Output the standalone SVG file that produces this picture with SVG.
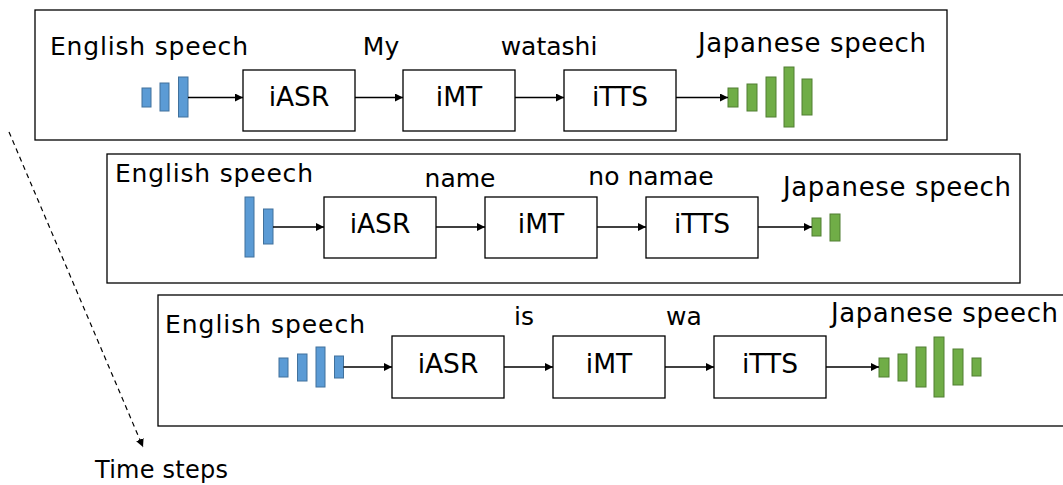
<svg xmlns="http://www.w3.org/2000/svg" width="1063" height="485" viewBox="0 0 1063 485">
  <defs>
    <style>
      text { font-family: "DejaVu Sans", "Noto Sans", sans-serif; font-size: 25px; fill: #000; }
      .node-label { font-size: 26.5px; }
      .ja-label { font-size: 26px; }
      .panel { fill: #fff; stroke: #000; stroke-width: 1.3; }
      .box { fill: #fff; stroke: #000; stroke-width: 1.3; }
      .en { fill: #5B9BD5; stroke: #41719C; stroke-width: 1; }
      .ja { fill: #70AD47; stroke: #507E32; stroke-width: 1; }
      .link { stroke: #000; stroke-width: 1.3; fill: none; marker-end: url(#arrow); }
      .time { stroke: #000; stroke-width: 1.2; fill: none; stroke-dasharray: 5 4; marker-end: url(#arrow); }
    </style>
    <marker id="arrow" viewBox="0 0 10 10" refX="10" refY="5" markerWidth="8" markerHeight="8" markerUnits="userSpaceOnUse" orient="auto">
      <path d="M0,0 L10,5 L0,10 z" fill="#000"/>
    </marker>
  </defs>

  <!-- Step 1 -->
  <g id="step1">
    <rect class="panel" x="35" y="10" width="912" height="130"/>
    <text x="50" y="55" textLength="198">English speech</text>
    <text class="ja-label" x="698" y="52" textLength="228">Japanese speech</text>
    <text x="381" y="55" text-anchor="middle">My</text>
    <text x="549" y="55" text-anchor="middle">watashi</text>
    <rect class="en" x="142" y="88" width="9" height="19"/>
    <rect class="en" x="160" y="83" width="9" height="28"/>
    <rect class="en" x="178.5" y="77" width="9.5" height="40"/>
    <rect class="ja" x="728" y="88" width="10" height="19"/>
    <rect class="ja" x="747" y="84" width="10" height="27"/>
    <rect class="ja" x="766" y="77" width="10" height="40"/>
    <rect class="ja" x="784" y="67" width="10" height="60"/>
    <rect class="ja" x="802" y="79" width="10" height="36"/>
  </g>
  <g id="iasr1"><rect class="box" x="243" y="70" width="112" height="61"/><text class="node-label" x="299" y="106" text-anchor="middle">iASR</text></g>
  <g id="imt1"><rect class="box" x="403" y="70" width="112" height="61"/><text class="node-label" x="459" y="106" text-anchor="middle">iMT</text></g>
  <g id="itts1"><rect class="box" x="564" y="70" width="112" height="61"/><text class="node-label" x="620" y="106" text-anchor="middle">iTTS</text></g>

  <!-- Step 2 -->
  <g id="step2">
    <rect class="panel" x="107" y="154" width="913" height="129"/>
    <text x="115" y="182" textLength="198">English speech</text>
    <text class="ja-label" x="783" y="196" textLength="228">Japanese speech</text>
    <text x="460" y="187" text-anchor="middle">name</text>
    <text x="651" y="185" text-anchor="middle">no namae</text>
    <rect class="en" x="245" y="197" width="9" height="60"/>
    <rect class="en" x="263.5" y="209" width="9.5" height="35"/>
    <rect class="ja" x="812" y="218" width="9" height="18"/>
    <rect class="ja" x="830" y="214" width="10" height="27"/>
  </g>
  <g id="iasr2"><rect class="box" x="324" y="197" width="112" height="61"/><text class="node-label" x="380" y="233" text-anchor="middle">iASR</text></g>
  <g id="imt2"><rect class="box" x="485" y="197" width="112" height="61"/><text class="node-label" x="541" y="233" text-anchor="middle">iMT</text></g>
  <g id="itts2"><rect class="box" x="646" y="197" width="112" height="61"/><text class="node-label" x="702" y="233" text-anchor="middle">iTTS</text></g>

  <!-- Step 3 -->
  <g id="step3">
    <rect class="panel" x="158" y="295" width="914" height="131"/>
    <text x="165" y="333" textLength="200">English speech</text>
    <text class="ja-label" x="831" y="322" textLength="227">Japanese speech</text>
    <text x="524" y="325" text-anchor="middle">is</text>
    <text x="684" y="325" text-anchor="middle">wa</text>
    <rect class="en" x="279" y="358" width="9" height="19"/>
    <rect class="en" x="297.5" y="354" width="9.5" height="27"/>
    <rect class="en" x="316" y="347" width="9" height="40"/>
    <rect class="en" x="334.5" y="356" width="9" height="22"/>
    <rect class="ja" x="879" y="358" width="10" height="19"/>
    <rect class="ja" x="898" y="354" width="9" height="27"/>
    <rect class="ja" x="916" y="347" width="10" height="40"/>
    <rect class="ja" x="934" y="337" width="10" height="60"/>
    <rect class="ja" x="953" y="349" width="10" height="36"/>
    <rect class="ja" x="972" y="358" width="9" height="18"/>
  </g>
  <g id="iasr3"><rect class="box" x="392" y="336" width="112" height="62"/><text class="node-label" x="448" y="373" text-anchor="middle">iASR</text></g>
  <g id="imt3"><rect class="box" x="553" y="336" width="112" height="62"/><text class="node-label" x="609" y="373" text-anchor="middle">iMT</text></g>
  <g id="itts3"><rect class="box" x="714" y="336" width="112" height="62"/><text class="node-label" x="770" y="373" text-anchor="middle">iTTS</text></g>

  <!-- Time axis -->
  <g id="time">
    <text x="95" y="478" textLength="133" style="font-size:24px">Time steps</text>
  </g>

  <g id="connectors">
    <path class="link" d="M188,97.5 H243"/>
    <path class="link" d="M355,97.5 H403"/>
    <path class="link" d="M515,97.5 H564"/>
    <path class="link" d="M676,97.5 H728"/>

    <path class="link" d="M273,227 H324"/>
    <path class="link" d="M436,227 H485"/>
    <path class="link" d="M597,227 H646"/>
    <path class="link" d="M758,227 H812"/>

    <path class="link" d="M343.5,367 H392"/>
    <path class="link" d="M504,367 H553"/>
    <path class="link" d="M665,367 H714"/>
    <path class="link" d="M826,367 H879"/>

    <path class="time" d="M9,132 L143,447"/>
  </g>
</svg>
